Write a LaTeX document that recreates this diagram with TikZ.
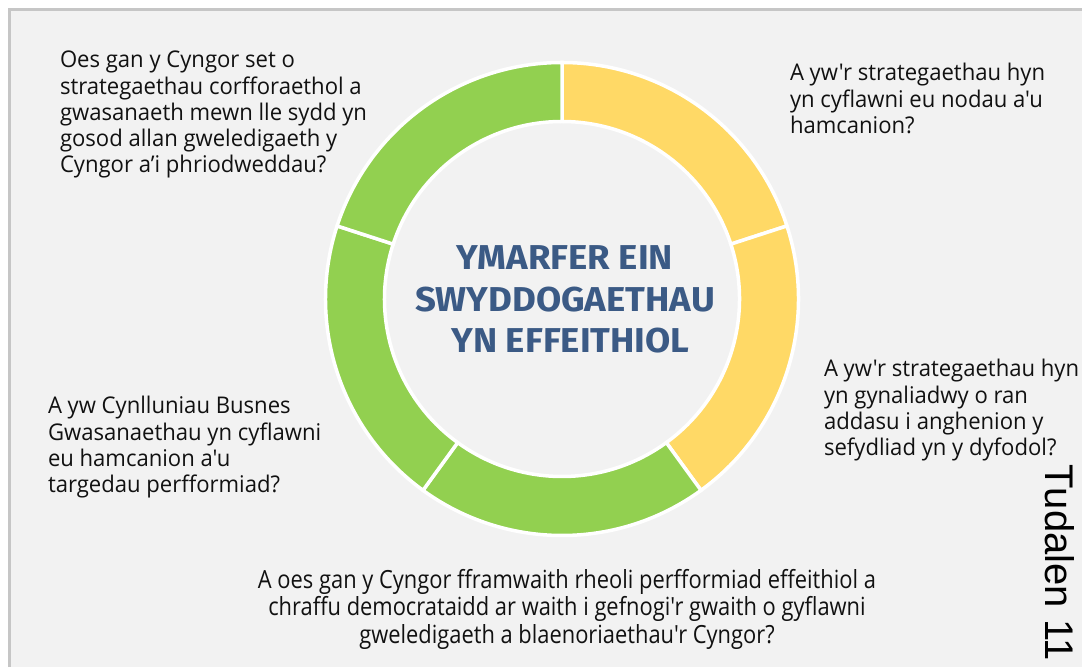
\documentclass[tikz,border=0pt]{standalone}
\usepackage{fontspec}
\usetikzlibrary{calc}
\setmainfont{Open Sans}
\newfontfamily\bodyfont[FakeStretch=0.96]{Open Sans}
\newfontfamily\condfont[FakeStretch=0.875]{Open Sans}
\newfontfamily\titlefont[FakeStretch=1.06]{Fira Sans}
\newfontfamily\pagefont{Liberation Sans}
\definecolor{bgrey}{HTML}{F2F2F2}
\definecolor{frame}{HTML}{C6C6C6}
\definecolor{segyellow}{HTML}{FFD966}
\definecolor{seggreen}{HTML}{92D050}
\definecolor{titleblue}{HTML}{3B5A85}
\definecolor{ink}{HTML}{111111}
\newcommand{\tstrut}[1]{\rule{0pt}{#1}}
\begin{document}
\begin{tikzpicture}[x=1pt,y=1pt,
  seg/.style={draw=white,line width=3.5pt,line join=miter},
  body/.style={inner sep=0pt,outer sep=0pt,anchor=north west,align=left,text=ink,
    font=\bodyfont\fontsize{23}{26.25}\selectfont},
  bottomtext/.style={inner sep=0pt,outer sep=0pt,anchor=north,align=center,text=ink,
    font=\condfont\fontsize{25}{27.5}\selectfont},
  titletext/.style={inner sep=0pt,outer sep=0pt,anchor=north,align=center,text=titleblue,
    font=\titlefont\bfseries\fontsize{34.5}{41.5}\selectfont},
  pagetext/.style={inner sep=0pt,outer sep=0pt,anchor=base west,rotate=-90,text=black,
    font=\pagefont\fontsize{40}{42}\selectfont}]
\useasboundingbox (0,0) rectangle (1082,667);
\fill[white] (0,0) rectangle (1082,667);
\fill[bgrey] (9.5,0) rectangle (1082,657.5);
\draw[frame,line width=2.5pt] (9.5,0) -- (9.5,657.5) -- (1082,657.5);
\coordinate (c) at (562,368);
% ring segments
\def\Ro{236.5}\def\Ri{177.5}
\foreach \a/\b/\col [count=\i] in {18/90/segyellow,-54/18/segyellow,-126/-54/seggreen,-198/-126/seggreen,90/162/seggreen}{
  \draw[seg,fill=\col] ($(c)+(\a:\Ro)$) arc[start angle=\a,end angle=\b,radius=\Ro]
    -- ($(c)+(\b:\Ri)$) arc[start angle=\b,end angle=\a,radius=\Ri] -- cycle;
}
\node[titletext] (title) at (565,427) {\tstrut{30pt}YMARFER EIN\\SWYDDOGAETHAU\\\hspace*{11pt}YN EFFEITHIOL};
\node[body] (q1) at (60,619) {\tstrut{20pt}Oes gan y Cyngor set o\\strategaethau corfforaethol a\\gwasanaeth mewn lle sydd yn\\gosod allan gweledigaeth y\\Cyngor a’i phriodweddau?};
\node[body] (q2) at (790,606) {\tstrut{20pt}A yw'r strategaethau hyn\\yn cyflawni eu nodau a'u\\hamcanion?};
\node[body] (q3) at (824,310) {\tstrut{20pt}A yw'r strategaethau hyn\\yn gynaliadwy o ran\\addasu i anghenion y\\sefydliad yn y dyfodol?};
\node[body] (q4) at (48,273) {\tstrut{20pt}A yw Cynlluniau Busnes\\Gwasanaethau yn cyflawni\\eu hamcanion a'u\\targedau perfformiad?};
\node[bottomtext] (q5) at (567,101) {\tstrut{22pt}A oes gan y Cyngor fframwaith rheoli perfformiad effeithiol a\\chraffu democrataidd ar waith i gefnogi'r gwaith o gyflawni\\gweledigaeth a blaenoriaethau'r Cyngor?};
\node[pagetext] (page) at (1045,202) {Tudalen 11};
\end{tikzpicture}
\end{document}
